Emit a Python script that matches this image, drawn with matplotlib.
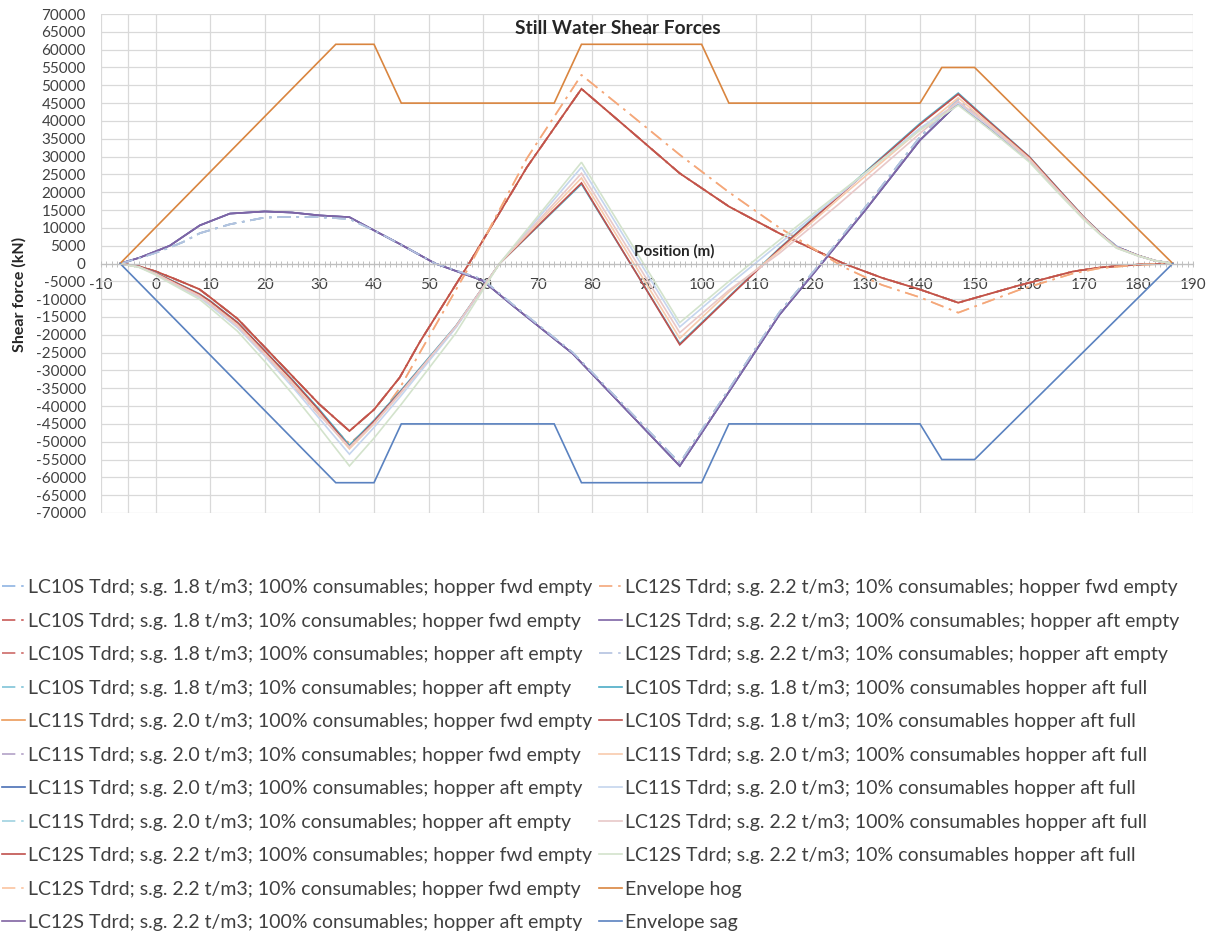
import matplotlib
matplotlib.use("Agg")
import matplotlib.pyplot as plt
from matplotlib.ticker import MultipleLocator

plt.rcParams["font.family"] = ["Lato", "DejaVu Sans"]
plt.rcParams["axes.unicode_minus"] = False

# ---- data ----
# envelope
x_env = [-6.5, 33, 40, 45, 73, 78, 100, 105, 140, 144, 150, 186.3]
env_hog = [0, 61500, 61500, 45000, 45000, 61500, 61500, 45000, 45000, 55000, 55000, 0]
env_sag = [0, -61500, -61500, -45000, -45000, -61500, -61500, -45000, -45000, -55000, -55000, 0]

# "hopper fwd empty" family
x_fwd = [-6.5, -3, 0, 3, 8, 10, 15, 20, 25, 30, 35.5, 40, 44.7, 48.4, 57.4, 68, 78,
         86, 96, 105, 114.2, 126, 133, 140, 147, 158, 168, 173, 180, 186.3]
fwd_100 = [0, -800, -2200, -4000, -7200, -9500, -15500, -23500, -31500, -39500, -47000,
           -41000, -32000, -22000, 0, 27000, 49000, 38500, 25300, 16000, 8500, 0, -4000,
           -7300, -11000, -6200, -2250, -1100, -300, 0]
fwd_10 = [0, -1000, -2800, -5000, -8800, -11200, -17000, -25500, -34000, -42500, -50500,
          -45000, -35000, -25000, -1000, 29500, 52900, 43000, 30500, 20000, 10100, -1000,
          -6000, -9500, -13800, -7500, -2800, -1300, -400, 0]

# "hopper aft empty" family
x_aft = [-6.5, -3, 0, 2.6, 5, 8.1, 13.6, 20, 25, 30, 35.5, 40, 44.7, 51.2, 59.9, 65.4,
         76.4, 96, 105, 114.2, 122, 130, 140, 147, 153, 160, 165, 170, 173, 176, 180,
         183, 186.3]
aft_100 = [0, 1600, 3400, 5000, 7500, 10700, 14000, 14600, 14300, 13500, 13000, 9300,
           5500, 0, -4800, -11800, -25300, -56800, -36000, -14500, 0, 15000, 34600,
           45000, 37500, 29000, 21000, 12800, 8500, 4700, 2200, 800, 0]
aft_10 = [0, 1500, 3000, 4500, 6000, 8500, 11000, 12900, 13100, 13000, 12500, 9300,
          5500, 0, -4500, -11500, -25000, -56000, -35300, -13800, 500, 15800, 35500,
          46000, 38000, 29300, 21200, 13000, 8600, 4800, 2200, 800, 0]

# "hopper aft full" family
x_full = [-6.5, -3, 0, 3, 8, 10, 15, 20, 25, 30, 35.5, 40, 45, 50, 55, 63, 78, 96, 105,
          114.2, 125, 140, 147, 153, 160, 165, 170, 173, 176, 180, 183, 186.3]
full_lc10_100 = [0, -900, -2600, -4800, -8500, -10500, -16500, -24500, -32500, -41000,
                 -51000, -44000, -35500, -26500, -17500, 0, 22300, -22500, -9300, 4200,
                 18900, 39300, 47800, 39500, 30000, 21500, 13000, 8500, 4500, 2200, 800, 0]
full_lc10_10 = [0, -900, -2700, -4900, -8600, -10600, -16600, -24600, -32700, -41300,
                -51500, -44300, -35800, -26800, -17700, 0, 22600, -22800, -9500, 4000,
                18700, 39000, 47500, 39300, 29900, 21400, 13000, 8500, 4500, 2200, 800, 0]
full_lc11_100 = [0, -1000, -2800, -5200, -9000, -11200, -17200, -25200, -33400, -42000,
                 -52000, -45000, -36200, -27000, -17800, 0, 24000, -21000, -8000, 3500,
                 18000, 37500, 46500, 38800, 29500, 21000, 12800, 8400, 4500, 2200, 800, 0]
full_lc11_10 = [0, -1000, -3000, -5500, -9500, -11800, -18000, -26000, -34500, -43500,
                -53500, -46000, -37000, -27500, -18000, 0, 27000, -17800, -6000, 5500,
                19000, 38000, 45000, 38000, 29000, 20800, 12600, 8300, 4400, 2100, 800, 0]
full_lc12_100 = [0, -1000, -2900, -5300, -9200, -11400, -17500, -25500, -33800, -42500,
                 -51500, -44800, -36000, -26800, -17600, 0, 25300, -19400, -7500, 2800,
                 16500, 36500, 45500, 38300, 29200, 20900, 12700, 8300, 4400, 2100, 800, 0]
full_lc12_10 = [0, -1100, -3200, -5800, -10000, -12500, -19000, -27500, -36500, -46000,
                -56800, -49000, -39500, -29500, -19500, 0, 28400, -16600, -5000, 6500,
                19500, 37400, 44400, 37300, 28500, 20300, 12300, 8100, 4300, 2100, 800, 0]

labels = [
    "LC10S Tdrd; s.g. 1.8 t/m3; 100% consumables; hopper fwd empty",
    "LC10S Tdrd; s.g. 1.8 t/m3; 10% consumables; hopper fwd empty",
    "LC10S Tdrd; s.g. 1.8 t/m3; 100% consumables; hopper aft empty",
    "LC10S Tdrd; s.g. 1.8 t/m3; 10% consumables; hopper aft empty",
    "LC11S Tdrd; s.g. 2.0 t/m3; 100% consumables; hopper fwd empty",
    "LC11S Tdrd; s.g. 2.0 t/m3; 10% consumables; hopper fwd empty",
    "LC11S Tdrd; s.g. 2.0 t/m3; 100% consumables; hopper aft empty",
    "LC11S Tdrd; s.g. 2.0 t/m3; 10% consumables; hopper aft empty",
    "LC12S Tdrd; s.g. 2.2 t/m3; 100% consumables; hopper fwd empty",
    "LC12S Tdrd; s.g. 2.2 t/m3; 10% consumables; hopper fwd empty",
    "LC12S Tdrd; s.g. 2.2 t/m3; 100% consumables; hopper aft empty",
    "LC12S Tdrd; s.g. 2.2 t/m3; 10% consumables; hopper fwd empty",
    "LC12S Tdrd; s.g. 2.2 t/m3; 100% consumables; hopper aft empty",
    "LC12S Tdrd; s.g. 2.2 t/m3; 10% consumables; hopper aft empty",
    "LC10S Tdrd; s.g. 1.8 t/m3; 100% consumables hopper aft full",
    "LC10S Tdrd; s.g. 1.8 t/m3; 10% consumables hopper aft full",
    "LC11S Tdrd; s.g. 2.0 t/m3; 100% consumables hopper aft full",
    "LC11S Tdrd; s.g. 2.0 t/m3; 10% consumables hopper aft full",
    "LC12S Tdrd; s.g. 2.2 t/m3; 100% consumables hopper aft full",
    "LC12S Tdrd; s.g. 2.2 t/m3; 10% consumables hopper aft full",
    "Envelope hog",
    "Envelope sag",
]

# which curve each series follows, its colour and whether it is dash-dot
series_data = [
    (x_fwd, fwd_100), (x_fwd, fwd_100), (x_fwd, fwd_100), (x_aft, aft_10),
    (x_fwd, fwd_100), (x_aft, aft_10), (x_aft, aft_100), (x_aft, aft_10),
    (x_fwd, fwd_100), (x_fwd, fwd_10), (x_aft, aft_100), (x_fwd, fwd_10),
    (x_aft, aft_100), (x_aft, aft_10),
    (x_full, full_lc10_100), (x_full, full_lc10_10), (x_full, full_lc11_100),
    (x_full, full_lc11_10), (x_full, full_lc12_100), (x_full, full_lc12_10),
    (x_env, env_hog), (x_env, env_sag),
]
colors = ["#8FB4E3", "#C85A57", "#CD6B68", "#7FC4D8", "#EB9B5A", "#B3A2C7", "#4A6FB5",
          "#A0D2E0", "#C0504D", "#FBC4A0", "#8064A2", "#F4A77A", "#7E65A6", "#B4C2E0",
          "#4BACC6", "#C0504D", "#F8CBAD", "#C5D5EE", "#E8C8C8", "#D3E3CC",
          "#D9853F", "#5A82C0"]
dashdot = [True, True, True, True, False, True, False, True, False, True, False, True,
           False, True, False, False, False, False, False, False, False, False]

DD = (0, (8, 3.5, 1.5, 3.5))

fig = plt.figure(figsize=(12.14, 9.35), dpi=100)
ax = fig.add_axes([101 / 1214, 1 - 513 / 935, 1092 / 1214, 499 / 935])

handles = []
for (xs, ys), c, dd in zip(series_data, colors, dashdot):
    h, = ax.plot(xs, ys, color=c, lw=1.2, ls=DD if dd else "-", solid_joinstyle="miter")
    handles.append(h)

ax.set_xlim(-10, 190)
ax.set_ylim(-70000, 70000)
ax.xaxis.set_major_locator(MultipleLocator(10))
ax.xaxis.set_minor_locator(MultipleLocator(1))
ax.grid(True, which="major", color="#D9D9D9", lw=0.9)
ax.axvline(-5, color="#D9D9D9", lw=0.9, zorder=0)
ax.set_axisbelow(True)
for s in ["top", "right", "left"]:
    ax.spines[s].set_visible(False)
ax.spines["bottom"].set_position(("data", 0))
ax.spines["bottom"].set_color("#BFBFBF")
ax.spines["bottom"].set_linewidth(0.9)
ax.tick_params(axis="x", which="both", direction="inout", length=4, width=0.7,
               color="#BFBFBF", labelsize=11, pad=8.5, labelcolor="#404040")
ax.tick_params(axis="y", length=0, labelsize=11, pad=11, labelcolor="#404040")
ax.set_yticks(range(-70000, 70001, 5000))
ax.set_yticklabels([str(v) for v in range(-70000, 70001, 5000)])

ax.text(95, 3400, "Position (m)", ha="center", va="center", fontsize=11,
        fontweight="bold", color="#262626")
fig.text(618 / 1214, 1 - 29 / 935, "Still Water Shear Forces", ha="center", va="center",
         fontsize=13.8, fontweight="bold", color="#262626")
fig.text(19 / 1214, 1 - 294 / 935, "Shear force (kN)", rotation=90, ha="center",
         va="center", fontsize=11.5, fontweight="bold", color="#262626")

leg_kw = dict(loc="upper left", frameon=False, fontsize=14, handlelength=1.2,
              handletextpad=0.13, labelspacing=0.85, borderpad=0, borderaxespad=0,
              labelcolor="#404040")
fig.legend(handles[:11], labels[:11], bbox_to_anchor=(2 / 1214, 1 - 579 / 935), **leg_kw)
fig.legend(handles[11:], labels[11:], bbox_to_anchor=(599 / 1214, 1 - 579 / 935), **leg_kw)

fig.savefig("out.png", dpi=100)
